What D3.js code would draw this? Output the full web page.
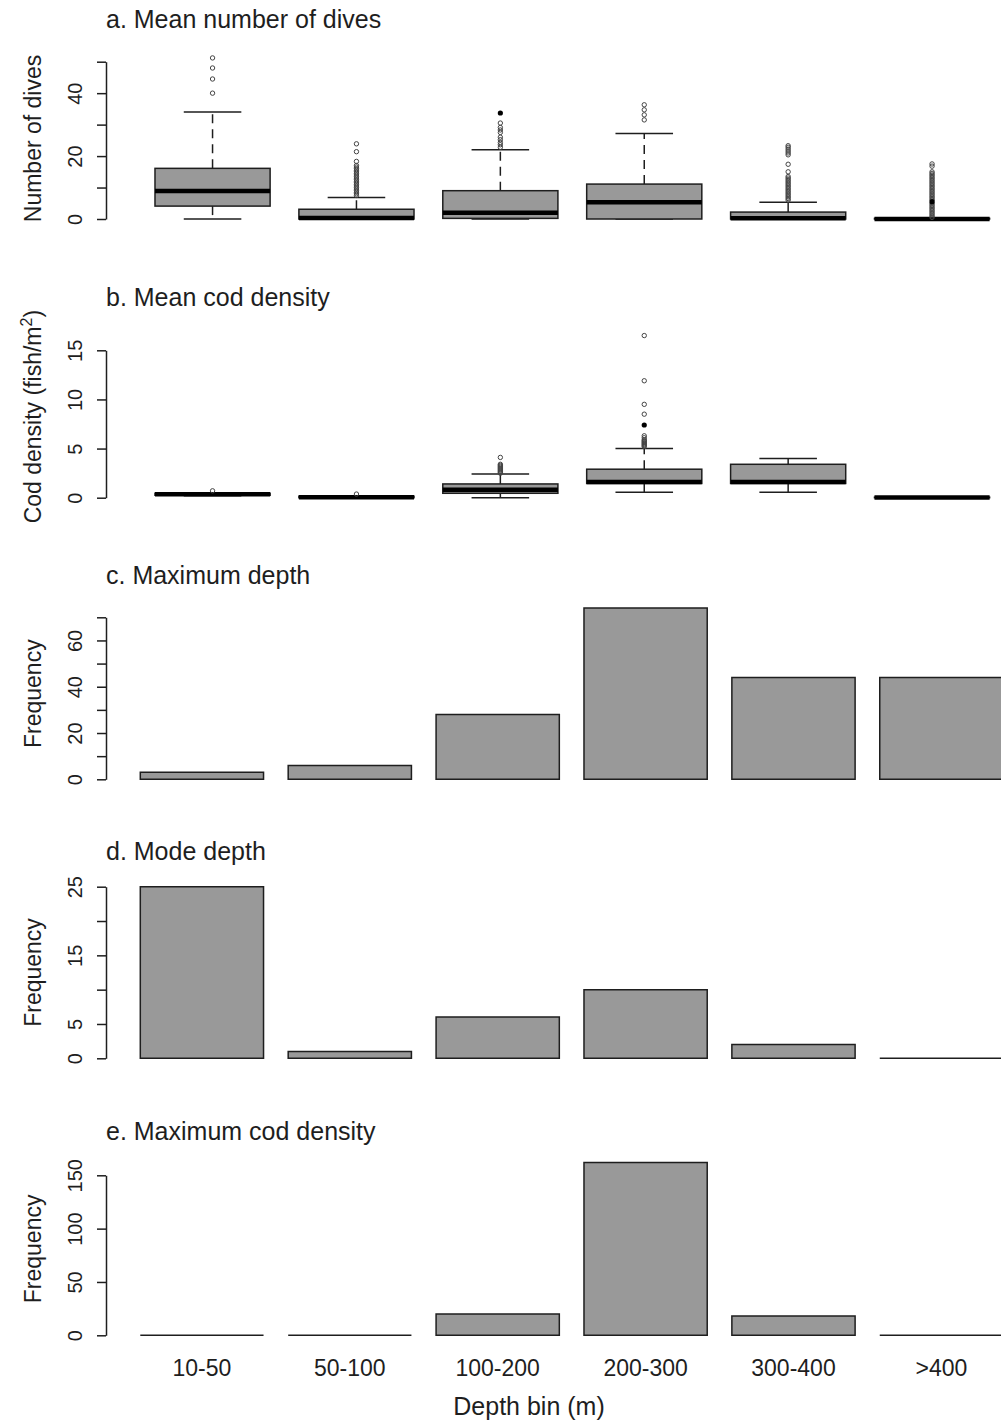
<!DOCTYPE html>
<html>
<head>
<meta charset="utf-8">
<script src="https://cdn.jsdelivr.net/npm/d3@7"></script>
<style>
  body { margin: 0; background: #fff; }
  svg { display: block; font-family: "Liberation Sans", Arial, sans-serif; }
</style>
</head>
<body>
<svg id="chart" width="1001" height="1422"></svg>
<script>
const depthBins = ["10-50", "50-100", "100-200", "200-300", "300-400", ">400"];

// a. Mean number of dives: [lower whisker, Q1, median, Q3, upper whisker]
const divesStats = [
  [0, 4.1, 8.9, 16.1, 34],
  [0, 0, 0.3, 3.1, 6.8],
  [0, 0.2, 2.0, 9.0, 22],
  [0, 0, 5.3, 11.1, 27.2],
  [0, 0, 0.2, 2.2, 5.3],
  [0, 0, 0, 0.2, 0]
];
const divesOutliers = [
  [40, 44.5, 48, 51.2],
  [7.5, 8, 8.5, 9, 9.5, 10, 10.5, 11, 11.5, 12, 12.5, 13, 13.5, 14, 14.5, 15, 15.5, 16, 16.5, 17, 18.3, 21.4, 23.9],
  [22.8, 23.6, 24.3, 25.2, 26, 27.5, 28.3, 29.1, 30.5],
  [31.5, 33.1, 34.7, 36.3],
  [6, 6.5, 7, 7.5, 8, 8.5, 9, 9.5, 10, 10.5, 11, 11.5, 12, 12.5, 13, 13.5, 15, 17.4, 20.4, 21, 21.6, 22.2, 22.8, 23.3],
  [0.5, 1, 1.5, 2, 2.5, 3, 3.5, 4, 4.5, 5, 6, 6.5, 7, 7.5, 8, 8.5, 9, 9.5, 10, 10.5, 11, 11.5, 12, 12.5, 13, 13.5, 14, 14.5, 15, 16.8, 17.5]
];
const divesOutliersSolid = [[], [], [33.7], [], [], [5.5]];

// b. Mean cod density
const codStats = [
  [0.2, 0.25, 0.35, 0.45, 0.5],
  [0, 0, 0.05, 0.15, 0.15],
  [0, 0.45, 0.8, 1.4, 2.4],
  [0.55, 1.45, 1.6, 2.9, 5.0],
  [0.55, 1.45, 1.6, 3.4, 4.0],
  [0, 0, 0.02, 0.05, 0.1]
];
const codOutliers = [
  [0.7],
  [0.37],
  [2.5, 2.6, 2.7, 2.8, 2.9, 3.0, 3.1, 3.2, 3.3, 3.4, 4.1],
  [5.2, 5.3, 5.4, 5.5, 5.6, 5.7, 5.8, 5.9, 6.1, 6.3, 8.5, 9.5, 11.9, 16.5],
  [],
  []
];
const codOutliersSolid = [[], [], [], [7.4], [], []];

// c-e. frequencies per depth bin
const maxDepthFreq = [3, 6, 28, 74, 44, 44];
const modeDepthFreq = [25, 1, 6, 10, 2, 0];
const maxCodFreq = [0, 0, 20, 162, 18, 0];

// y-axis ticks and labels
const divesTicks = [0, 10, 20, 30, 40, 50];
const divesTickLabels = [0, 20, 40];
const codTicks = [0, 5, 10, 15];
const codTickLabels = [0, 5, 10, 15];
const maxDepthTicks = [0, 10, 20, 30, 40, 50, 60, 70];
const maxDepthTickLabels = [0, 20, 40, 60];
const modeDepthTicks = [0, 5, 10, 15, 20, 25];
const modeDepthTickLabels = [0, 5, 15, 25];
const maxCodTicks = [0, 50, 100, 150];
const maxCodTickLabels = [0, 50, 100, 150];

const panels = [
  { type: "box", title: "a. Mean number of dives", ylab: "Number of dives",
    stats: divesStats, out: divesOutliers, solid: divesOutliersSolid,
    ticks: divesTicks, labels: divesTickLabels, zero: 219, top: 61.7, titleY: 27.5 },
  { type: "box", title: "b. Mean cod density", ylab: "cod",
    stats: codStats, out: codOutliers, solid: codOutliersSolid,
    ticks: codTicks, labels: codTickLabels, zero: 497.7, top: 350.3, titleY: 305.5 },
  { type: "bar", title: "c. Maximum depth", ylab: "Frequency",
    values: maxDepthFreq, ticks: maxDepthTicks, labels: maxDepthTickLabels,
    zero: 779.3, top: 617.3, titleY: 584 },
  { type: "bar", title: "d. Mode depth", ylab: "Frequency",
    values: modeDepthFreq, ticks: modeDepthTicks, labels: modeDepthTickLabels,
    zero: 1058.3, top: 886.7, titleY: 860 },
  { type: "bar", title: "e. Maximum cod density", ylab: "Frequency",
    values: maxCodFreq, ticks: maxCodTicks, labels: maxCodTickLabels,
    zero: 1335.3, top: 1175.3, titleY: 1140 }
];

const svg = d3.select("#chart");
const ink = "#1e1e1e";
const fillGray = "#999999";
const axisX = 106;

// box positions (1..6) and bar positions differ slightly, as in R
const xBox = d3.scaleBand().domain(depthBins).range([140.6, 1004]).paddingInner(0.2).paddingOuter(0.1);
const xBar = d3.scaleBand().domain(depthBins).range([140.3, 1003]).paddingInner(0.1667).paddingOuter(0);

panels.forEach((p) => {
  const g = svg.append("g");
  const y = d3.scaleLinear()
    .domain([0, d3.max(p.ticks)])
    .range([p.zero, p.top]);

  let dataMax;
  if (p.type === "box") {
    dataMax = d3.max(p.stats.map((s, i) => d3.max([s[4], ...p.out[i], ...p.solid[i]])));
  } else {
    dataMax = d3.max(p.values);
  }

  // title
  g.append("text")
    .attr("x", axisX)
    .attr("y", p.titleY)
    .attr("font-size", 25)
    .attr("fill", ink)
    .text(p.title);

  // y axis
  const axis = d3.axisLeft(y)
    .tickValues(p.ticks)
    .tickSize(9)
    .tickSizeOuter(0)
    .tickFormat((d) => (p.labels.includes(d) ? d : ""));
  const ag = g.append("g")
    .attr("transform", `translate(${axisX},0)`)
    .call(axis);
  ag.select(".domain").attr("stroke", ink).attr("stroke-width", 1.5);
  ag.selectAll(".tick line").attr("stroke", ink).attr("stroke-width", 1.5);
  ag.selectAll(".tick text")
    .attr("x", null)
    .attr("dy", null)
    .attr("transform", "translate(-24,0) rotate(-90)")
    .attr("text-anchor", "middle")
    .attr("font-size", 20)
    .attr("font-family", "Liberation Sans, Arial, sans-serif")
    .attr("fill", ink);

  // y label centred on the plot region (R extends ylim by 4%)
  const labY = (y(-0.04 * dataMax) + y(1.04 * dataMax)) / 2;
  const lab = g.append("text")
    .attr("transform", `translate(41,${labY}) rotate(-90)`)
    .attr("text-anchor", "middle")
    .attr("font-size", 23)
    .attr("fill", ink);
  if (p.ylab === "cod") {
    lab.append("tspan").text("Cod density (fish/m");
    lab.append("tspan").attr("font-size", 16).attr("dy", -9).text("2");
    lab.append("tspan").attr("dy", 9).text(")");
  } else {
    lab.text(p.ylab);
  }

  if (p.type === "box") {
    const bw = xBox.bandwidth();
    p.stats.forEach((s, i) => {
      const cx = xBox(depthBins[i]) + bw / 2;
      const x0 = xBox(depthBins[i]);
      const [lo, q1, med, q3, hi] = s;
      const bg = g.append("g");
      // whiskers
      bg.append("line")
        .attr("x1", cx).attr("x2", cx)
        .attr("y1", y(q3)).attr("y2", y(hi))
        .attr("stroke", ink).attr("stroke-width", 1.5)
        .attr("stroke-dasharray", "9,6");
      bg.append("line")
        .attr("x1", cx).attr("x2", cx)
        .attr("y1", y(q1)).attr("y2", y(lo))
        .attr("stroke", ink).attr("stroke-width", 1.5)
        .attr("stroke-dasharray", "9,6");
      [lo, hi].forEach((v) => {
        bg.append("line")
          .attr("x1", cx - bw / 4).attr("x2", cx + bw / 4)
          .attr("y1", y(v)).attr("y2", y(v))
          .attr("stroke", ink).attr("stroke-width", 1.5);
      });
      // box
      bg.append("rect")
        .attr("x", x0)
        .attr("y", y(q3))
        .attr("width", bw)
        .attr("height", Math.max(0, y(q1) - y(q3)))
        .attr("fill", fillGray)
        .attr("stroke", ink)
        .attr("stroke-width", 1.5);
      // median
      bg.append("line")
        .attr("x1", x0).attr("x2", x0 + bw)
        .attr("y1", y(med)).attr("y2", y(med))
        .attr("stroke", "#000").attr("stroke-width", 4.5);
      // outliers
      bg.selectAll("circle.out")
        .data(p.out[i])
        .join("circle")
        .attr("class", "out")
        .attr("cx", cx)
        .attr("cy", (d) => y(d))
        .attr("r", 2.2)
        .attr("fill", "none")
        .attr("stroke", "#444")
        .attr("stroke-width", 1);
      bg.selectAll("circle.solid")
        .data(p.solid[i])
        .join("circle")
        .attr("class", "solid")
        .attr("cx", cx)
        .attr("cy", (d) => y(d))
        .attr("r", 2.6)
        .attr("fill", "#000");
    });
  } else {
    const bw = xBar.bandwidth();
    g.selectAll("path.bar")
      .data(p.values)
      .join("path")
      .attr("class", "bar")
      .attr("d", (d, i) => {
        const x0 = xBar(depthBins[i]);
        return `M${x0},${y(0)}H${x0 + bw}V${y(d)}H${x0}Z`;
      })
      .attr("fill", fillGray)
      .attr("stroke", ink)
      .attr("stroke-width", 1.5);
  }
});

// x labels under the last panel
svg.append("g")
  .selectAll("text")
  .data(depthBins)
  .join("text")
  .attr("x", (d) => xBar(d) + xBar.bandwidth() / 2)
  .attr("y", 1376)
  .attr("text-anchor", "middle")
  .attr("font-size", 23)
  .attr("fill", ink)
  .text((d) => d);

svg.append("text")
  .attr("x", 529)
  .attr("y", 1415)
  .attr("text-anchor", "middle")
  .attr("font-size", 25)
  .attr("fill", ink)
  .text("Depth bin (m)");
</script>
</body>
</html>
